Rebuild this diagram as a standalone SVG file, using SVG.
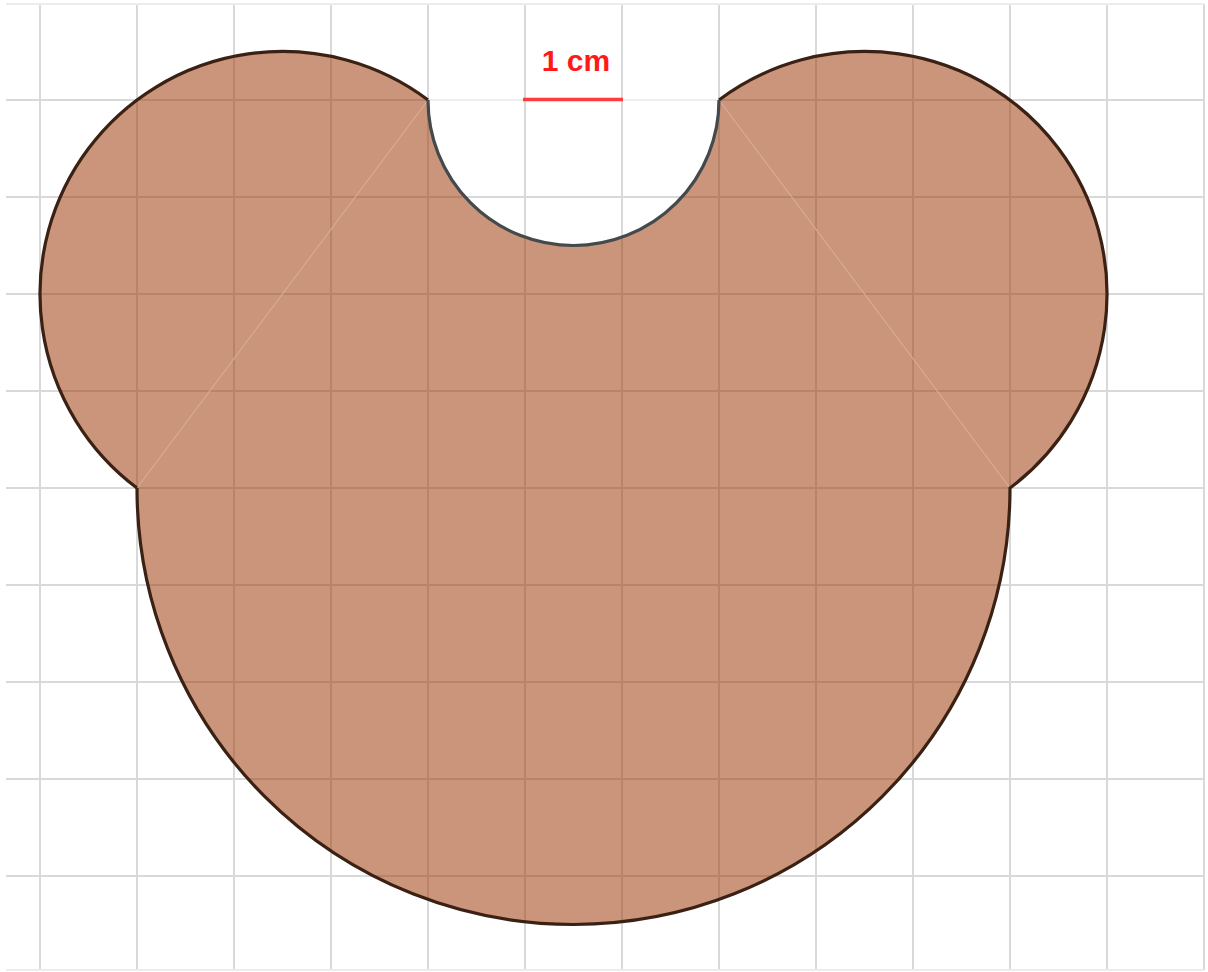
<svg xmlns="http://www.w3.org/2000/svg" width="1208" height="972" viewBox="0 0 1208 972">
  <style>
    .grid line { stroke: #d9d9d9; stroke-width: 2; }
    .faint { stroke: #eeeeee; stroke-width: 2; }
    .chord { stroke: #d6ab96; stroke-width: 1.2; fill: none; }
    .label { font-family: "Liberation Sans", Arial, sans-serif; font-weight: bold; font-size: 30px; fill: #ff1a1a; }
  </style>
  <rect width="1208" height="972" fill="#ffffff"/>
  <g id="grid" class="grid">
    <line x1="40" y1="4" x2="40" y2="970"/>
    <line x1="137" y1="4" x2="137" y2="970"/>
    <line x1="234" y1="4" x2="234" y2="970"/>
    <line x1="331" y1="4" x2="331" y2="970"/>
    <line x1="428" y1="4" x2="428" y2="970"/>
    <line x1="525" y1="4" x2="525" y2="970"/>
    <line x1="622" y1="4" x2="622" y2="970"/>
    <line x1="719" y1="4" x2="719" y2="970"/>
    <line x1="816" y1="4" x2="816" y2="970"/>
    <line x1="913" y1="4" x2="913" y2="970"/>
    <line x1="1010" y1="4" x2="1010" y2="970"/>
    <line x1="1107" y1="4" x2="1107" y2="970"/>
    <line x1="1204" y1="4" x2="1204" y2="970"/>
    <line x1="6" y1="4" x2="1204" y2="4" style="stroke:#ececec"/>
    <line x1="6" y1="100" x2="428" y2="100"/>
    <line x1="719" y1="100" x2="1204" y2="100"/>
    <line x1="6" y1="197" x2="1204" y2="197"/>
    <line x1="6" y1="294" x2="1204" y2="294"/>
    <line x1="6" y1="391" x2="1204" y2="391"/>
    <line x1="6" y1="488" x2="1204" y2="488"/>
    <line x1="6" y1="585" x2="1204" y2="585"/>
    <line x1="6" y1="682" x2="1204" y2="682"/>
    <line x1="6" y1="779" x2="1204" y2="779"/>
    <line x1="6" y1="876" x2="1204" y2="876"/>
    <line x1="6" y1="970" x2="1204" y2="970" style="stroke:#ececec"/>
  </g>
  <line class="faint" x1="428" y1="100" x2="719" y2="100"/>
  <g id="bear-shape">
    <path d="M137,488 A242.5,242.5 0 1 1 428,100 A145.5,145.5 0 0 0 719,100 A242.5,242.5 0 1 1 1010,488 A436.5,436.5 0 0 1 137,488 Z" fill="#993300" fill-opacity="0.52" stroke="none"/>
    <line class="chord" x1="428" y1="100" x2="137" y2="488"/>
    <line class="chord" x1="719" y1="100" x2="1010" y2="488"/>
    <path d="M137,488 A242.5,242.5 0 1 1 428,100" fill="none" stroke="#3a2114" stroke-width="3.2"/>
    <path d="M719,100 A242.5,242.5 0 1 1 1010,488 A436.5,436.5 0 0 1 137,488" fill="none" stroke="#3a2114" stroke-width="3.2" stroke-linejoin="miter"/>
    <path d="M428,100 A145.5,145.5 0 0 0 719,100" fill="none" stroke="#444a4c" stroke-width="3.2"/>
  </g>
  <g id="scale">
    <line x1="523" y1="99.5" x2="623" y2="99.5" stroke="#ff3b3b" stroke-width="3.5"/>
    <text class="label" x="576" y="71" text-anchor="middle">1 cm</text>
  </g>
</svg>
